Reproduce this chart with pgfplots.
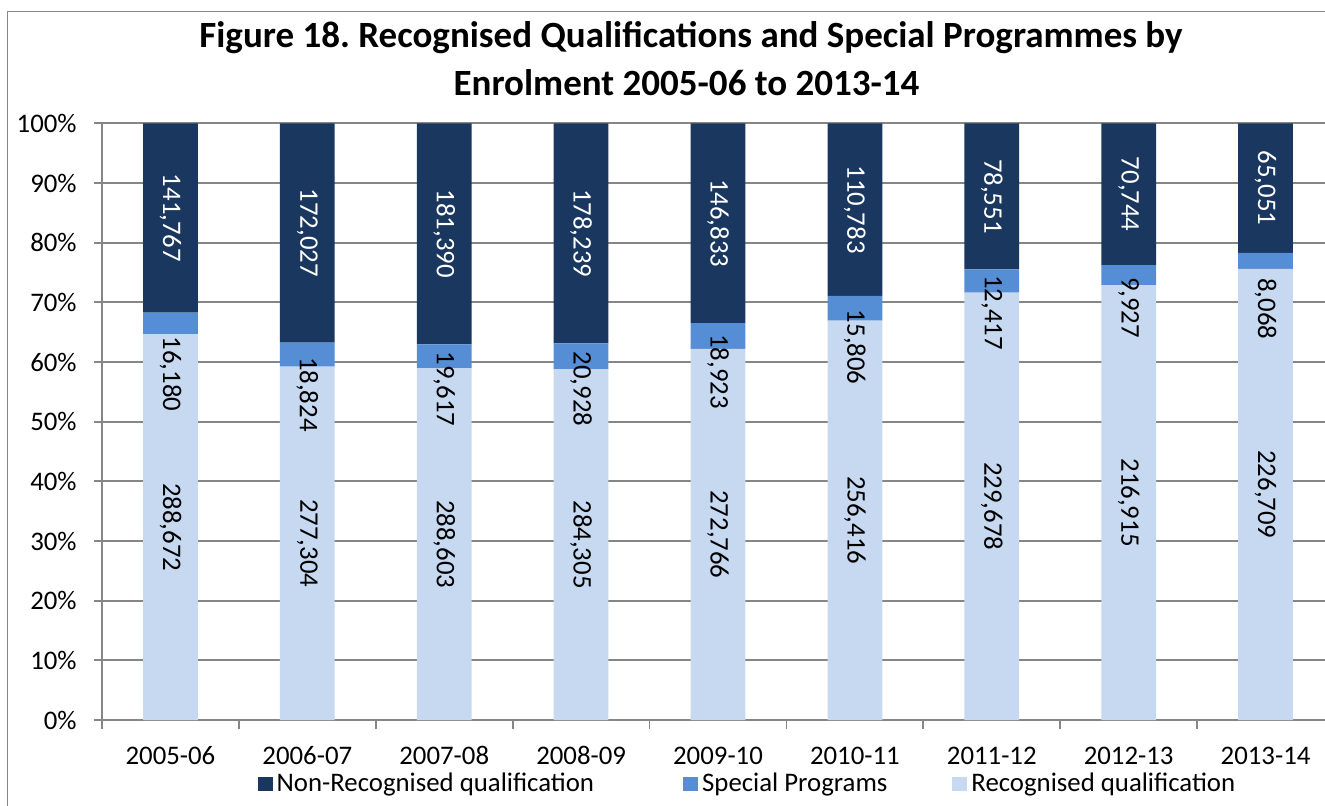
\documentclass[border=0pt]{standalone}
\usepackage{fontspec}
\setmainfont{Carlito}
\usepackage{pgfplots}
\pgfplotsset{compat=1.18}
\usepackage{pgfplotstable}

\definecolor{nonrec}{RGB}{25,55,95}
\definecolor{spec}{RGB}{85,142,213}
\definecolor{rec}{RGB}{198,217,241}
\definecolor{gridgray}{RGB}{134,134,134}

% shares in percent of total enrolment (R = recognised, S = special, N = non-recognised)
\pgfplotstableread{
x R S N
0 64.635 3.623 31.742
1 59.233 4.021 36.746
2 58.946 4.007 37.048
3 58.805 4.329 36.866
4 62.202 4.315 33.484
5 66.948 4.127 28.925
6 71.630 3.872 24.498
7 72.891 3.336 23.773
8 75.613 2.691 21.696
}\shares

\newcommand{\labfont}{\fontsize{13.4}{16}\selectfont}
\tikzset{
  nlab/.style={rotate=-90, font=\labfont, text=white, inner sep=0pt},
  slab/.style={rotate=-90, font=\labfont, anchor=west, inner sep=0pt},
  rlab/.style={rotate=-90, font=\labfont, inner sep=0pt},
}
\pgfplotsset{
  samebox/.style={
    at={(51pt,42.5pt)}, anchor=south west,
    scale only axis,
    width=616pt, height=298.35pt,
    xmin=-0.5, xmax=8.5,
    ymin=0, ymax=100,
    clip=false,
  },
}

\begin{document}
\begin{tikzpicture}
\path[use as bounding box] (0,0) rectangle (662.5pt,402.5pt);
\draw[gridgray, line width=0.7pt] (3.65pt,-5pt) -- (3.65pt,396.65pt) -- (700pt,396.65pt);

\node[anchor=base, font=\fontsize{18.5}{22}\selectfont\bfseries] at (345.5pt,378.5pt)
  {Figure 18.\ Recognised Qualifications and Special Programmes by};
\node[anchor=base, font=\fontsize{18.5}{22}\selectfont\bfseries] at (343.25pt,354.5pt)
  {Enrolment 2005-06 to 2013-14};

\begin{axis}[
    samebox,
    ybar stacked,
    bar width=0.4,
    xtick={0,...,8},
    xticklabels={2005-06,2006-07,2007-08,2008-09,2009-10,2010-11,2011-12,2012-13,2013-14},
    minor xtick={-0.5,0.5,...,8.5},
    ytick={0,10,...,100},
    yticklabel={\pgfmathprintnumber{\tick}\%},
    /pgf/number format/assume math mode=true,
    axis x line=bottom, axis y line=left,
    axis line style={-, gridgray, line width=0.9pt},
    ymajorgrids,
    grid style={gridgray, line width=0.9pt},
    tick align=outside,
    major tick length=4pt,
    minor tick length=4.5pt,
    tick style={gridgray, line width=0.9pt},
    major x tick style={draw=none},
    tick label style={font=\labfont},
    yticklabel style={anchor=east, inner sep=0pt, xshift=-8.5pt},
    xticklabel style={anchor=base, inner sep=0pt, yshift=-18.2pt},
    legend columns=3,
    reverse legend,
    legend image code/.code={\fill[#1] (0pt,-3.5pt) rectangle (7.5pt,3.5pt);},
    legend style={
        font=\labfont, draw=none, fill=none,
        at={(0.126,-0.1073)}, anchor=west,
        inner sep=0pt,
        /tikz/column 2/.style={column sep=42.5pt},
        /tikz/column 4/.style={column sep=30.5pt},
    },
]
\addplot[fill=rec, draw=none] table[x=x, y=R] {\shares};
\addlegendentry{Recognised qualification}
\addplot[fill=spec, draw=none] table[x=x, y=S] {\shares};
\addlegendentry{Special Programs}
\addplot[fill=nonrec, draw=none] table[x=x, y=N] {\shares};
\addlegendentry{Non-Recognised qualification}
\end{axis}

% data labels, in a second axis on top of the bars
\begin{axis}[samebox, hide axis]
% non-recognised counts, centred in the top segment
\node[nlab] at (axis cs:0,84.13) {141,767};
\node[nlab] at (axis cs:1,81.63) {172,027};
\node[nlab] at (axis cs:2,81.48) {181,390};
\node[nlab] at (axis cs:3,81.57) {178,239};
\node[nlab] at (axis cs:4,83.26) {146,833};
\node[nlab] at (axis cs:5,85.54) {110,783};
\node[nlab] at (axis cs:6,87.75) {78,551};
\node[nlab] at (axis cs:7,88.11) {70,744};
\node[nlab] at (axis cs:8,89.15) {65,051};
% special programme counts, hanging down from the small segment
\node[slab] at (axis cs:0,64.3) {16,180};
\node[slab] at (axis cs:1,60.9) {18,824};
\node[slab] at (axis cs:2,61.8) {19,617};
\node[slab] at (axis cs:3,61.8) {20,928};
\node[slab] at (axis cs:4,64.7) {18,923};
\node[slab] at (axis cs:5,68.8) {15,806};
\node[slab] at (axis cs:6,74.6) {12,417};
\node[slab] at (axis cs:7,74.3) {9,927};
\node[slab] at (axis cs:8,74.1) {8,068};
% recognised counts, centred in the bottom segment
\node[rlab] at (axis cs:0,32.32) {288,672};
\node[rlab] at (axis cs:1,29.62) {277,304};
\node[rlab] at (axis cs:2,29.47) {288,603};
\node[rlab] at (axis cs:3,29.40) {284,305};
\node[rlab] at (axis cs:4,31.10) {272,766};
\node[rlab] at (axis cs:5,33.47) {256,416};
\node[rlab] at (axis cs:6,35.82) {229,678};
\node[rlab] at (axis cs:7,36.45) {216,915};
\node[rlab] at (axis cs:8,37.81) {226,709};
\end{axis}
\end{tikzpicture}
\end{document}
